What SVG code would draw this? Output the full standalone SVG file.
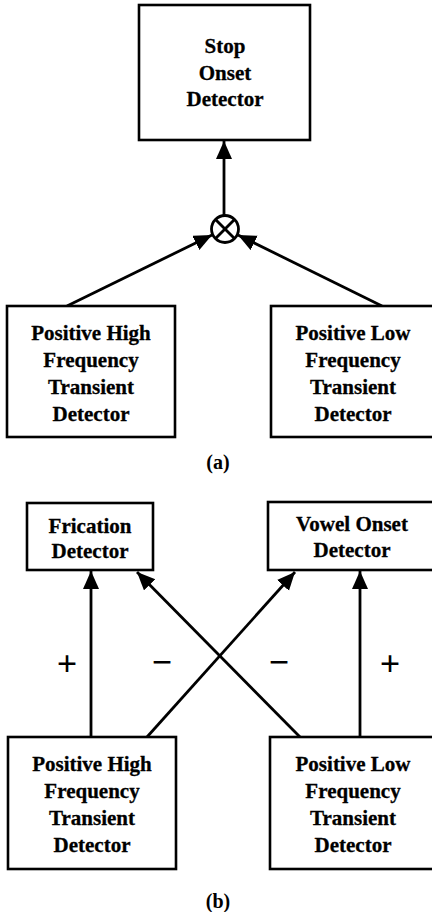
<svg xmlns="http://www.w3.org/2000/svg" width="432" height="912" viewBox="0 0 432 912">
<style>
.box{fill:#fff;stroke:#000;stroke-width:2.6}
.t{font-family:"Liberation Serif","Times New Roman",serif;font-weight:bold;font-size:21px;text-anchor:middle;fill:#000;stroke:#000;stroke-width:0.3}
.c{stroke:#000;stroke-width:2.8;fill:none}
.cap{font-family:"Liberation Serif","Times New Roman",serif;font-weight:bold;font-size:20px;text-anchor:middle;fill:#000}
.pl{font-family:"Liberation Serif","Times New Roman",serif;font-weight:bold;font-size:36px;text-anchor:middle;fill:#000}
.mi{font-family:"Liberation Serif","Times New Roman",serif;font-weight:bold;font-size:36px;text-anchor:middle;fill:#000}
</style>
<defs>
<marker id="ah" markerUnits="userSpaceOnUse" markerWidth="19" markerHeight="17" refX="18" refY="8" orient="auto">
<path d="M0,0 L18,8 L0,16 z" fill="#000"/>
</marker>
</defs>
<rect width="432" height="912" fill="#fff"/>
<g id="connectors">
<line class="c" x1="224" y1="215" x2="224" y2="141" marker-end="url(#ah)"/>
<line class="c" x1="67" y1="306" x2="212" y2="235" marker-end="url(#ah)"/>
<line class="c" x1="382" y1="306" x2="238" y2="235" marker-end="url(#ah)"/>
<line class="c" x1="91" y1="737" x2="91" y2="571" marker-end="url(#ah)"/>
<line class="c" x1="360" y1="737" x2="360" y2="571" marker-end="url(#ah)"/>
<line class="c" x1="147" y1="737" x2="295" y2="572" marker-end="url(#ah)"/>
<line class="c" x1="300" y1="737" x2="137" y2="572" marker-end="url(#ah)"/>
</g>
<g id="multiplier">
<circle cx="225" cy="229" r="13.5" fill="#fff" stroke="#000" stroke-width="2.8"/>
<line class="c" x1="215.5" y1="219.5" x2="234.5" y2="238.5"/>
<line class="c" x1="234.5" y1="219.5" x2="215.5" y2="238.5"/>
</g>
<g id="stop-onset">
<rect class="box" x="139" y="5" width="171" height="135"/>
<text class="t" x="225" y="53">Stop</text>
<text class="t" x="225" y="80">Onset</text>
<text class="t" x="225" y="106">Detector</text>
</g>
<g id="phf-a">
<rect class="box" x="7" y="306" width="168" height="131"/>
<text class="t" x="91" y="340">Positive High</text>
<text class="t" x="91" y="367">Frequency</text>
<text class="t" x="91" y="394">Transient</text>
<text class="t" x="91" y="421">Detector</text>
</g>
<g id="plf-a">
<rect class="box" x="271" y="306" width="165" height="131"/>
<text class="t" x="353" y="340">Positive Low</text>
<text class="t" x="353" y="367">Frequency</text>
<text class="t" x="353" y="394">Transient</text>
<text class="t" x="353" y="421">Detector</text>
</g>
<text class="cap" x="218" y="469">(a)</text>
<g id="frication">
<rect class="box" x="27" y="503" width="126" height="67"/>
<text class="t" x="90" y="533">Frication</text>
<text class="t" x="90" y="558">Detector</text>
</g>
<g id="vowel-onset">
<rect class="box" x="268" y="502" width="168" height="68"/>
<text class="t" x="352" y="531">Vowel Onset</text>
<text class="t" x="352" y="557">Detector</text>
</g>
<g id="labels">
<text class="pl" x="67" y="676">+</text>
<text class="mi" x="162" y="674">−</text>
<text class="mi" x="279" y="674">−</text>
<text class="pl" x="390" y="676">+</text>
</g>
<g id="phf-b">
<rect class="box" x="8" y="737" width="168" height="132"/>
<text class="t" x="92" y="771">Positive High</text>
<text class="t" x="92" y="798">Frequency</text>
<text class="t" x="92" y="825">Transient</text>
<text class="t" x="92" y="852">Detector</text>
</g>
<g id="plf-b">
<rect class="box" x="270" y="737" width="166" height="132"/>
<text class="t" x="353" y="771">Positive Low</text>
<text class="t" x="353" y="798">Frequency</text>
<text class="t" x="353" y="825">Transient</text>
<text class="t" x="353" y="852">Detector</text>
</g>
<text class="cap" x="218" y="908">(b)</text>
</svg>
